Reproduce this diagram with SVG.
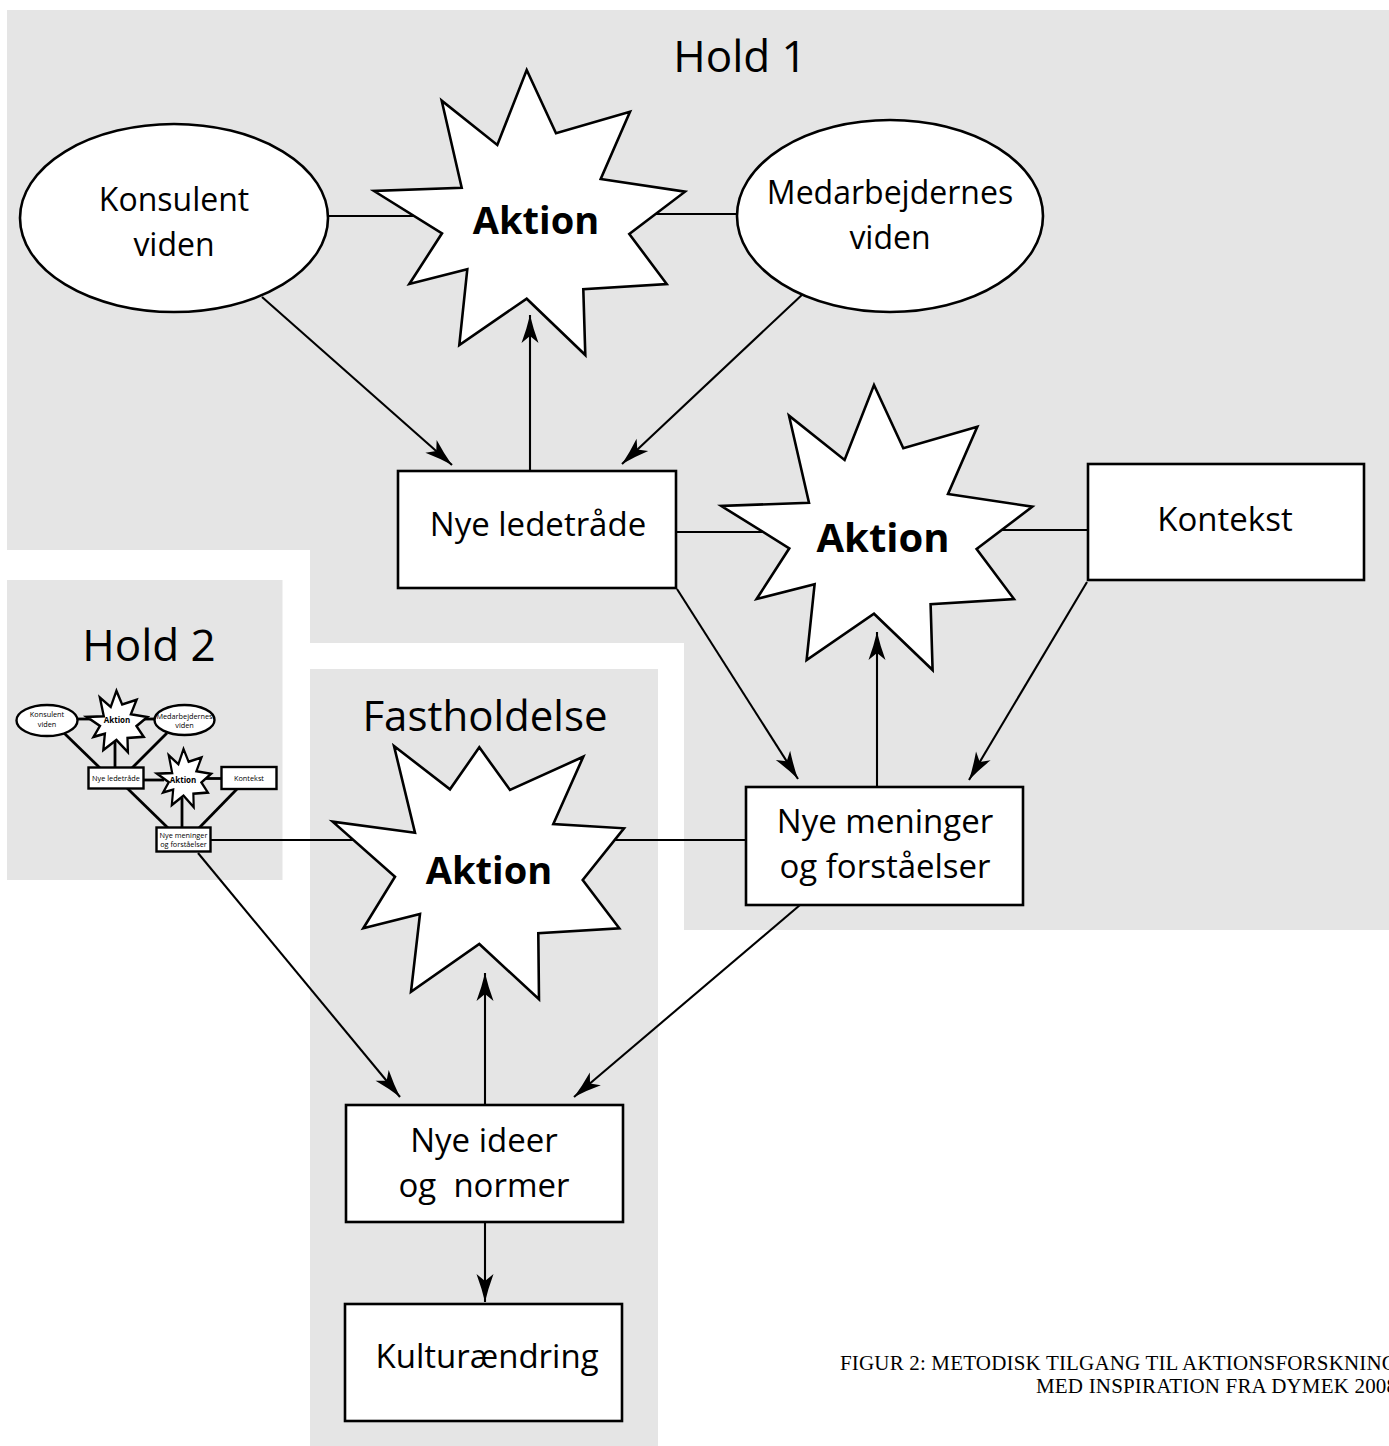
<svg xmlns="http://www.w3.org/2000/svg" width="1389" height="1446" viewBox="0 0 1389 1446">
<style>
  .panel { fill: #e5e5e5; stroke: none; }
  .node { fill: #ffffff; stroke: #000000; stroke-width: 2.6; }
  .mini { fill: #ffffff; stroke: #000000; stroke-width: 2.4; }
  .conn { fill: none; stroke: #000000; stroke-width: 2.1; }
  .mconn { fill: none; stroke: #000000; stroke-width: 2.8; }
  .arr { marker-end: url(#ah); }
  text { font-family: "Open Sans", "Noto Sans", sans-serif; fill: #000000; text-anchor: middle; }
  .t { font-size: 33px; }
  .te { font-size: 32px; }
  .title { font-size: 44px; }
  .bold { font-weight: bold; }
  .mt { font-size: 7.3px; }
  .mtb { font-size: 8px; font-weight: bold; }
  .cap { font-family: "Liberation Serif", "Times New Roman", serif; font-size: 21px; text-anchor: start; }
</style>
<defs>
  <marker id="ah" markerUnits="userSpaceOnUse" viewBox="-32 -10 34 20" refX="0" refY="0" markerWidth="34" markerHeight="20" orient="auto">
    <path d="M0,0 Q-13,-3 -28,-8.5 L-21,0 L-28,8.5 Q-13,3 0,0 Z" fill="#000"/>
  </marker>
  <polygon id="starA" points="526.7,70 556,133.3 630,111.7 600.7,179 685,191.7 629.3,234 666.7,284 583.3,289.3 585.3,355 526.7,298.7 459.3,345 467.3,269.3 409.3,284 442,233.3 374,191 461.7,187.7 441.7,100.7 497.3,145"/>
</defs>

<g id="backgrounds">
  <path id="hold1-panel" class="panel" d="M7,10 H1389 V930 H684 V643 H310 V550 H7 Z"/>
  <rect id="hold2-panel" class="panel" x="7" y="580" width="275.5" height="300"/>
  <rect id="fastholdelse-panel" class="panel" x="310" y="669" width="348" height="777"/>
</g>

<g id="titles">
  <text class="title" x="740" y="72">Hold 1</text>
  <text class="title" x="149" y="661">Hold 2</text>
  <text class="title" x="485" y="731" style="font-size:42px">Fastholdelse</text>
</g>

<g id="connectors">
  <line class="conn" x1="328" y1="216" x2="420" y2="216"/>
  <line class="conn" x1="650" y1="214" x2="738" y2="214"/>
  <line class="conn arr" x1="262" y1="297" x2="452" y2="465"/>
  <line class="conn arr" x1="805" y1="292" x2="622" y2="464"/>
  <line class="conn arr" x1="530" y1="471" x2="530" y2="315"/>
  <line class="conn" x1="676" y1="532" x2="772" y2="532"/>
  <line class="conn" x1="1000" y1="530" x2="1088" y2="530"/>
  <line class="conn arr" x1="677" y1="589" x2="798" y2="779"/>
  <line class="conn arr" x1="1087" y1="582" x2="969" y2="780"/>
  <line class="conn arr" x1="877" y1="787" x2="877" y2="632"/>
  <line class="conn" x1="211" y1="840" x2="360" y2="840"/>
  <line class="conn" x1="605" y1="840" x2="746" y2="840"/>
  <line class="conn arr" x1="198" y1="853" x2="400" y2="1097"/>
  <line class="conn arr" x1="800" y1="905" x2="574" y2="1097"/>
  <line class="conn arr" x1="485" y1="1105" x2="485" y2="973"/>
  <line class="conn arr" x1="485" y1="1222" x2="485" y2="1302"/>
</g>

<g id="node-konsulent">
  <ellipse class="node" cx="174" cy="218" rx="154" ry="94"/>
  <text class="te" x="174" y="211">Konsulent</text>
  <text class="te" x="174" y="256">viden</text>
</g>
<g id="node-aktion1">
  <use href="#starA" class="node"/>
  <text class="bold" x="536" y="234" style="font-size:38px">Aktion</text>
</g>
<g id="node-medarbejdernes">
  <ellipse class="node" cx="890" cy="216" rx="153" ry="96"/>
  <text class="te" x="890" y="204">Medarbejdernes</text>
  <text class="te" x="890" y="249">viden</text>
</g>
<g id="node-nye-ledetraade">
  <rect class="node" x="398" y="471" width="278" height="117"/>
  <text class="t" x="538" y="536">Nye ledetråde</text>
</g>
<g id="node-aktion2">
  <use href="#starA" class="node" transform="translate(347.3,315)"/>
  <text class="bold" x="883" y="552" style="font-size:40px">Aktion</text>
</g>
<g id="node-kontekst">
  <rect class="node" x="1088" y="464" width="276" height="116"/>
  <text class="t" x="1225" y="531">Kontekst</text>
</g>
<g id="node-nye-meninger">
  <rect class="node" x="746" y="787" width="277" height="118"/>
  <text class="t" x="885" y="833">Nye meninger</text>
  <text class="t" x="885" y="878">og forståelser</text>
</g>
<g id="node-aktion3">
  <polygon class="node" points="479.3,747.3 510,790 583.3,756.7 553.3,824 624,828.3 582.7,880 619.3,928.3 538.3,933.3 539,999.3 479.3,944 411,991.7 420,914 363.3,928.3 395,876.7 332.7,821.7 415,832.7 394,746 450,789.3"/>
  <text class="bold" x="489" y="884" style="font-size:38px">Aktion</text>
</g>
<g id="node-nye-ideer">
  <rect class="node" x="346" y="1105" width="277" height="117"/>
  <text class="t" x="484" y="1152">Nye ideer</text>
  <text class="t" x="484" y="1197" xml:space="preserve">og  normer</text>
</g>
<g id="node-kulturaendring">
  <rect class="node" x="345" y="1304" width="277" height="117"/>
  <text class="t" x="487" y="1368">Kulturændring</text>
</g>

<g id="hold2-mini">
  <g id="mini-connectors">
    <line class="mconn" x1="78" y1="719" x2="94" y2="719"/>
    <line class="mconn" x1="140" y1="719" x2="155" y2="719"/>
    <line class="mconn" x1="64" y1="733" x2="100" y2="768"/>
    <line class="mconn" x1="115" y1="738" x2="115" y2="768"/>
    <line class="mconn" x1="167" y1="733" x2="132" y2="768"/>
    <line class="mconn" x1="143" y1="780" x2="164" y2="780"/>
    <line class="mconn" x1="203" y1="778.5" x2="222" y2="778.5"/>
    <line class="mconn" x1="127" y1="788" x2="168" y2="828"/>
    <line class="mconn" x1="182" y1="798" x2="182" y2="828"/>
    <line class="mconn" x1="237" y1="789" x2="199" y2="828"/>
  </g>
  <g id="mini-konsulent">
    <ellipse class="mini" cx="47" cy="720.5" rx="30.5" ry="15.5"/>
    <text class="mt" x="47" y="717">Konsulent</text>
    <text class="mt" x="47" y="726.5">viden</text>
  </g>
  <g id="mini-aktion1">
    <use href="#starA" class="mini" style="stroke-width:12" transform="translate(117,721.5) scale(0.195,0.215) translate(-529.5,-212.5)"/>
    <text class="mtb" x="117" y="722.5">Aktion</text>
  </g>
  <g id="mini-medarbejdernes">
    <ellipse class="mini" cx="184.5" cy="720" rx="30" ry="15"/>
    <text class="mt" x="184.5" y="719">Medarbejdernes</text>
    <text class="mt" x="184.5" y="727.5">viden</text>
  </g>
  <g id="mini-nye-ledetraade">
    <rect class="mini" x="88.5" y="767.5" width="55" height="21"/>
    <text class="mt" x="116" y="780.5">Nye ledetråde</text>
  </g>
  <g id="mini-aktion2">
    <use href="#starA" class="mini" style="stroke-width:12.5" transform="translate(184,778) scale(0.174,0.204) translate(-529.5,-212.5)"/>
    <text class="mtb" x="183" y="782.5">Aktion</text>
  </g>
  <g id="mini-kontekst">
    <rect class="mini" x="221.5" y="767" width="55" height="22"/>
    <text class="mt" x="249" y="780.5">Kontekst</text>
  </g>
  <g id="mini-nye-meninger">
    <rect class="mini" x="156.5" y="827.5" width="54" height="24"/>
    <text class="mt" x="183.5" y="837.5">Nye meninger</text>
    <text class="mt" x="183.5" y="846.5">og forståelser</text>
  </g>
</g>

<g id="caption">
  <text class="cap" x="840" y="1370" textLength="557" lengthAdjust="spacing">FIGUR 2: METODISK TILGANG TIL AKTIONSFORSKNING</text>
  <text class="cap" x="1036" y="1393" textLength="361" lengthAdjust="spacing">MED INSPIRATION FRA DYMEK 2008</text>
</g>
</svg>
